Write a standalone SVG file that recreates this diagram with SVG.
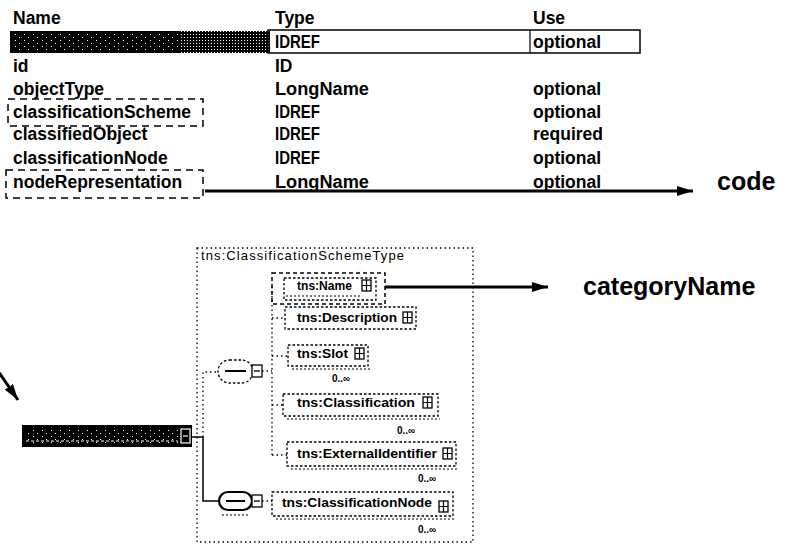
<svg xmlns="http://www.w3.org/2000/svg" width="785" height="544" viewBox="0 0 785 544">
<defs>
<style>
text{font-family:"Liberation Sans",Arial,sans-serif;fill:#000}
.t{font-size:17.5px;font-weight:bold}
.big{font-size:25px;font-weight:bold}
.el{font-size:12px;font-weight:bold}
.occ{font-size:10px;font-weight:bold}
.ty{font-size:13px}
.frame{fill:none;stroke:#000;stroke-width:1.5;stroke-dasharray:7 5}
.dot{fill:none;stroke:#000;stroke-width:1.3;stroke-dasharray:1.5 3}
.box{fill:#fff;stroke:#000;stroke-width:1.3;stroke-dasharray:2.5 2}
.shadow{fill:none;stroke:#000;stroke-width:1.2;stroke-dasharray:2 2}
.solid{fill:none;stroke:#000;stroke-width:1.5}
.arrow{fill:none;stroke:#000;stroke-width:3}
</style>
<pattern id="speck" width="9" height="6" patternUnits="userSpaceOnUse">
<rect x="1" y="1" width="1" height="1" fill="#fff"/>
<rect x="6" y="4" width="1" height="1" fill="#fff"/>
</pattern>
<pattern id="dither" width="3" height="3" patternUnits="userSpaceOnUse">
<rect width="3" height="3" fill="#000"/>
<rect x="1" y="1" width="1" height="1" fill="#fff"/>
</pattern>
<marker id="ah" viewBox="0 0 16 10" refX="16" refY="5" markerWidth="16" markerHeight="10" markerUnits="userSpaceOnUse" orient="auto">
<path d="M0,0 L16,5 L0,10 z" fill="#000"/>
</marker>
<g id="plus">
<rect x="0" y="0" width="9" height="11" fill="#fff" stroke="#000" stroke-width="1.3"/>
<path d="M4.5,0 V11 M0,5.5 H9" stroke="#000" stroke-width="1.2"/>
</g>
<g id="minus">
<rect x="0" y="0" width="10" height="12" fill="#fff" stroke="#000" stroke-width="1.3"/>
<path d="M2,6 H8" stroke="#000" stroke-width="1.3"/>
</g>
</defs>

<!-- attribute table -->
<g id="table">
<text class="t" x="13" y="24">Name</text>
<text class="t" x="275" y="24">Type</text>
<text class="t" x="533" y="24">Use</text>

<rect x="10" y="31" width="170" height="22" fill="#000"/>
<rect x="12" y="33" width="166" height="18" fill="url(#speck)"/>
<rect x="180" y="31" width="90" height="22" fill="url(#dither)"/>
<rect x="268" y="30" width="372" height="23" fill="none" stroke="#000" stroke-width="1.5"/>
<line x1="530" y1="30" x2="530" y2="53" stroke="#000" stroke-width="1.2"/>
<text class="t" x="275" y="48" textLength="45" lengthAdjust="spacingAndGlyphs">IDREF</text>
<text class="t" x="533" y="48">optional</text>

<text class="t" x="13" y="72">id</text>
<text class="t" x="275" y="72">ID</text>

<text class="t" x="13" y="95">objectType</text>
<text class="t" x="275" y="95" textLength="94" lengthAdjust="spacingAndGlyphs">LongName</text>
<text class="t" x="533" y="95">optional</text>

<text class="t" x="13" y="118">classificationScheme</text>
<text class="t" x="275" y="118" textLength="45" lengthAdjust="spacingAndGlyphs">IDREF</text>
<text class="t" x="533" y="118">optional</text>
<rect class="frame" x="8" y="99" width="195" height="27"/>

<text class="t" x="13" y="140">classifiedObject</text>
<text class="t" x="275" y="140" textLength="45" lengthAdjust="spacingAndGlyphs">IDREF</text>
<text class="t" x="533" y="140">required</text>

<text class="t" x="13" y="164">classificationNode</text>
<text class="t" x="275" y="164" textLength="45" lengthAdjust="spacingAndGlyphs">IDREF</text>
<text class="t" x="533" y="164">optional</text>

<text class="t" x="13" y="188">nodeRepresentation</text>
<text class="t" x="275" y="188" textLength="94" lengthAdjust="spacingAndGlyphs">LongName</text>
<text class="t" x="533" y="188">optional</text>
<rect class="frame" x="6" y="170" width="197" height="28"/>
</g>

<!-- mapping labels -->
<g id="label-code">
<text class="big" x="717" y="190">code</text>
</g>
<g id="label-categoryName">
<text class="big" x="583" y="295">categoryName</text>
</g>

<!-- complex type frame -->
<g id="type-frame">
<rect class="dot" x="197" y="248" width="276" height="294"/>
<text class="ty" x="201" y="260" textLength="203" lengthAdjust="spacing">tns:ClassificationSchemeType</text>
</g>

<!-- root element -->
<g id="root-element">
<rect x="22" y="425" width="170" height="22" fill="#000"/>
<rect x="26" y="428" width="152" height="16" fill="url(#speck)"/>
<line x1="26" y1="441" x2="178" y2="441" stroke="#fff" stroke-width="1" stroke-dasharray="3 2"/>
<rect x="181" y="429" width="9" height="14" fill="none" stroke="#fff" stroke-width="1.2"/>
<path d="M183,436 H188" stroke="#fff" stroke-width="1.2"/>
</g>

<!-- compositors -->
<g id="sequence-1">
<rect class="box" x="218" y="360" width="35" height="23" rx="11.5"/>
<line x1="225" y1="371" x2="246" y2="371" stroke="#000" stroke-width="2"/>
<use href="#minus" x="252" y="365"/>
</g>
<g id="sequence-2">
<rect x="219" y="492" width="33" height="18" rx="9" fill="#fff" stroke="#000" stroke-width="2.2"/>
<line x1="226" y1="501" x2="245" y2="501" stroke="#000" stroke-width="2"/>
<line x1="222" y1="515" x2="248" y2="515" class="shadow"/>
<use href="#minus" x="252" y="495"/>
</g>

<!-- child elements -->
<g id="el-name">
<rect class="frame" x="272" y="273" width="113" height="31" style="stroke-dasharray:4 3"/>
<rect class="box" x="284" y="278" width="92" height="22"/>
<text class="el" x="297" y="290" textLength="55" lengthAdjust="spacingAndGlyphs">tns:Name</text>
<line x1="286" y1="296" x2="360" y2="296" class="shadow"/>
<use href="#plus" x="362" y="280"/>
</g>
<g id="el-description">
<rect class="box" x="285" y="307" width="131" height="22"/>
<text class="el" x="297" y="322" textLength="100" lengthAdjust="spacingAndGlyphs">tns:Description</text>
<use href="#plus" x="403" y="312"/>
</g>
<g id="el-slot">
<rect class="box" x="288" y="345" width="80" height="21"/>
<line x1="292" y1="369" x2="370" y2="369" class="shadow"/>
<text class="el" x="297" y="358" textLength="51" lengthAdjust="spacingAndGlyphs">tns:Slot</text>
<use href="#plus" x="355" y="348"/>
<text class="occ" x="332" y="382">0..∞</text>
</g>
<g id="el-classification">
<rect class="box" x="283" y="394" width="155" height="22"/>
<line x1="287" y1="419" x2="440" y2="419" class="shadow"/>
<text class="el" x="297" y="407" textLength="118" lengthAdjust="spacingAndGlyphs">tns:Classification</text>
<use href="#plus" x="423" y="397"/>
<text class="occ" x="397" y="434">0..∞</text>
</g>
<g id="el-externalidentifier">
<rect class="box" x="287" y="442" width="169" height="24"/>
<line x1="291" y1="469" x2="458" y2="469" class="shadow"/>
<text class="el" x="297" y="458" textLength="140" lengthAdjust="spacingAndGlyphs">tns:ExternalIdentifier</text>
<use href="#plus" x="443" y="448"/>
<text class="occ" x="418" y="482">0..∞</text>
</g>
<g id="el-classificationnode">
<rect class="box" x="272" y="492" width="181" height="24"/>
<line x1="276" y1="519" x2="455" y2="519" class="shadow"/>
<text class="el" x="282" y="507" textLength="150" lengthAdjust="spacingAndGlyphs">tns:ClassificationNode</text>
<use href="#plus" x="439" y="501"/>
<text class="occ" x="418" y="533">0..∞</text>
</g>

<!-- connectors -->
<g id="connectors">
<line class="arrow" x1="205" y1="191" x2="693" y2="191" marker-end="url(#ah)"/>
<line class="arrow" x1="385" y1="287" x2="548" y2="287" marker-end="url(#ah)"/>
<line class="arrow" x1="-2" y1="371" x2="18" y2="400" marker-end="url(#ah)"/>

<path class="solid" d="M192,437 H203 V501 H219"/>
<path class="dot" d="M203,437 V372 H218"/>
<path class="dot" d="M262,371 H272"/>
<path class="dot" d="M272,287 V455"/>
<path class="dot" d="M272,318 H285 M272,356 H288 M272,405 H283 M272,455 H287"/>
<path class="dot" d="M262,501 H272"/>
</g>
</svg>
